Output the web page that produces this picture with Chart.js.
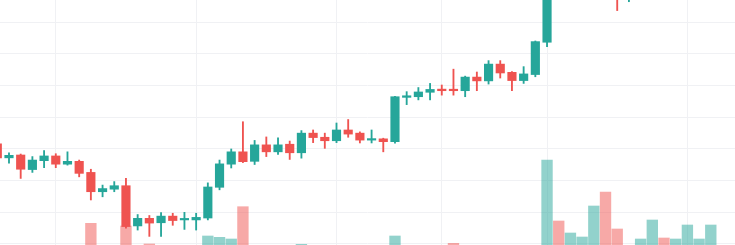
<!DOCTYPE html>
<html>
<head>
<meta charset="utf-8">
<script src="https://cdn.jsdelivr.net/npm/chart.js@4.4.1/dist/chart.umd.min.js"></script>
<style>
  html, body { margin: 0; padding: 0; background: #ffffff; }
  #wrap { width: 735px; height: 245px; position: relative; }
</style>
</head>
<body>
<div id="wrap"><canvas id="c"></canvas></div>
<script>
// ---- data ----
const opens  = [12.16,11.72,11.81,11.35,11.63,11.78,11.52,11.61,11.26,10.65,10.73,10.84,9.57,9.81,9.67,9.88,9.76,9.76,9.82,10.79,
                11.52,11.91,11.61,12.13,11.91,12.15,11.88,12.50,12.37,12.26,12.60,12.50,12.28,12.32,12.23,13.63,13.65,13.79,13.89,13.88,
                13.84,14.27,14.15,14.68,14.42,14.16,14.35,15.37,17.30,17.05,17.30,17.40,17.90,17.20,16.95,17.05,17.30,17.60,17.40,17.60,
                17.90,18.00];
const highs  = [12.19,11.88,11.84,11.76,11.95,11.85,11.91,11.65,11.36,10.86,10.97,11.07,9.93,9.90,9.99,9.97,10.00,9.97,10.93,11.65,
                12.00,12.86,12.27,12.38,12.35,12.25,12.58,12.60,12.50,12.82,12.93,12.54,12.60,12.34,13.66,13.81,13.94,14.07,14.02,14.52,
                14.30,14.43,14.79,14.79,14.44,14.60,15.41,17.35,17.55,17.40,17.50,18.00,18.05,17.30,17.20,17.40,17.70,17.70,17.70,18.00,
                18.10,18.40];
const lows   = [11.65,11.55,11.07,11.26,11.41,11.41,11.49,11.12,10.39,10.49,10.65,9.50,9.44,9.24,9.24,9.59,9.46,9.44,9.76,10.71,
                11.40,11.57,11.51,11.76,11.83,11.67,11.71,12.20,12.02,12.20,12.37,12.19,12.19,11.91,12.18,13.40,13.55,13.55,13.70,13.70,
                13.65,13.84,14.05,14.24,13.84,14.07,14.28,15.23,16.95,16.90,17.10,17.20,17.10,16.37,16.65,16.90,17.20,17.30,17.30,17.50,
                17.80,17.90];
const closes = [11.72,11.80,11.36,11.65,11.78,11.52,11.61,11.23,10.65,10.75,10.84,9.55,9.81,9.66,9.88,9.74,9.80,9.84,10.80,11.53,
                11.91,11.60,12.13,11.91,12.13,11.88,12.50,12.36,12.26,12.60,12.47,12.28,12.32,12.23,13.65,13.68,13.80,13.88,13.84,13.84,
                14.27,14.15,14.68,14.40,14.16,14.37,15.39,17.25,17.05,17.30,17.40,17.90,17.20,16.95,17.05,17.30,17.60,17.40,17.60,17.90,
                18.00,18.30];
const volumes = [60,80,90,70,50,80,60,100,347,70,90,320,110,140,90,60,70,80,220,207,
                 190,513,100,60,80,70,137,60,50,70,90,60,40,80,220,80,60,70,50,147,
                 90,60,110,80,70,60,120,980,370,250,210,520,660,290,90,190,380,200,190,330,
                 190,330];
const priceGridLevels = [9,10,11,12,13,14,15,16];
const timeGridIndices = [5,17,29,38,47,59];

// ---- styles ----
const UP = '#26a69a', DOWN = '#ef5350';
const UP_VOL = 'rgba(38,166,154,0.5)', DOWN_VOL = 'rgba(239,83,80,0.5)';
const GRID = '#f0f1f4';

const isUp = i => closes[i] >= opens[i];

const bodyData = opens.map((o, i) => ({ x: i, y: [o, closes[i]] }));
const wickData = opens.map((o, i) => ({ x: i, y: [lows[i], highs[i]] }));
const volData  = volumes.map((v, i) => ({ x: i, y: v }));

new Chart(document.getElementById('c'), {
  type: 'bar',
  data: {
    datasets: [
      { data: bodyData, yAxisID: 'y', order: 0, grouped: false, barThickness: 8.5, minBarLength: 1.5,
        backgroundColor: c => isUp(c.dataIndex) ? UP : DOWN, borderWidth: 0 },
      { data: wickData, yAxisID: 'y', order: 1, grouped: false, barThickness: 1.2,
        backgroundColor: c => isUp(c.dataIndex) ? UP : DOWN, borderWidth: 0 },
      { data: volData, yAxisID: 'yv', order: 2, grouped: false, barThickness: 10.7,
        backgroundColor: c => isUp(c.dataIndex) ? UP_VOL : DOWN_VOL, borderWidth: 0 }
    ]
  },
  options: {
    responsive: true,
    maintainAspectRatio: false,
    animation: false,
    events: [],
    layout: { padding: 0 },
    plugins: { legend: { display: false }, tooltip: { enabled: false } },
    scales: {
      x: {
        type: 'linear', offset: false, min: 0.231, max: 63.07,
        afterBuildTicks: s => { s.ticks = timeGridIndices.map(v => ({ value: v })); },
        ticks: { display: false },
        border: { display: false },
        grid: { color: GRID, lineWidth: 1, drawTicks: false, offset: false }
      },
      y: {
        position: 'right', min: 8.968, max: 16.704,
        afterBuildTicks: s => { s.ticks = priceGridLevels.map(v => ({ value: v })); },
        ticks: { display: false },
        border: { display: false },
        grid: { color: GRID, lineWidth: 1, drawTicks: false, offset: false }
      },
      yv: {
        display: false, min: 130, max: 2580
      }
    }
  }
});
</script>
</body>
</html>
